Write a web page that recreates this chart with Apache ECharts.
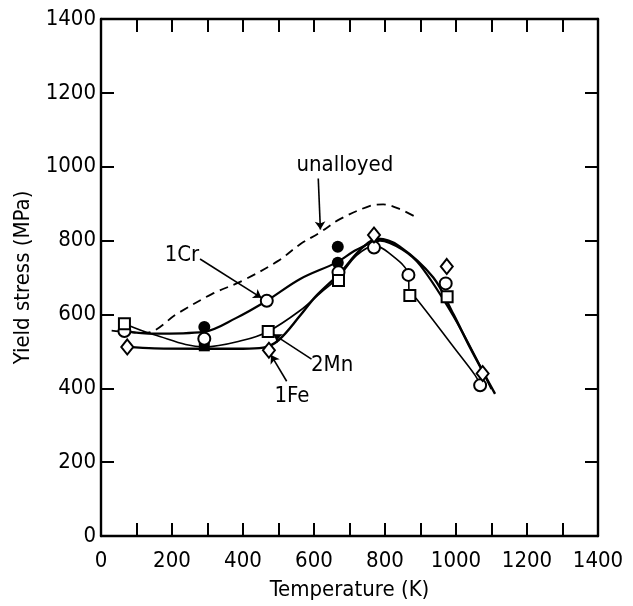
<!DOCTYPE html>
<html><head><meta charset="utf-8">
<script src="https://cdn.jsdelivr.net/npm/echarts@6/dist/echarts.min.js"></script>
<style>html,body{margin:0;padding:0;background:#fff}#c{width:633px;height:606px}</style>
</head><body><div id="c"></div>
<script>
// ---- data (Temperature K, Yield stress MPa) ----
const xTicks = [0,200,400,600,800,1000,1200,1400];
const yTicks = [0,200,400,600,800,1000,1200,1400];

const curveUnalloyed = [[30,556],[124,550],[218,604],[312,655],[400,692],[499,745],[561,790],[617,822],[673,858],[758,894],[795,898],[842,885],[894,860]];
const curve1Cr = [[66,555],[150,548],[290,553],[380,590],[467,637],[561,696],[664,741],[720,775],[786,800],[850,775],[900,732],[993,595],[1077,443],[1100,398]];
const curve1Fe = [[74,512],[150,508],[290,507],[400,507],[457,510],[500,530],[561,597],[603,647],[673,712],[730,775],[780,805],[840,785],[936,700],[993,600],[1039,511],[1077,443],[1110,385]];
const curve2Mn = [[66,575],[150,545],[291,512],[400,530],[471,554],[560,610],[620,660],[669,700],[720,760],[770,785],[809,768],[866,707],[868,660],[889,642],[997,507],[1054,435],[1068,410]];

const pts1Cr = [[66,555],[291,534],[467,637],[669,714],[769,781],[866,707],[971,684],[1068,408]];
const pts2Mn = [[66,575],[471,554],[669,692],[870,651],[975,648]];
const pts1Fe = [[74,512],[473,503],[769,815],[974,730],[1075,440]];
const ptsFilledCircle = [[291,566],[667,783],[667,740]];
const ptsFilledSquare = [[291,515]];

const labels = [
  {name:'unalloyed', value:[687,1003]},
  {name:'1Cr', value:[228,761]},
  {name:'2Mn', value:[651,461]},
  {name:'1Fe', value:[538,378]}
];
const arrows = [
  [[612,968],[618,830]],
  [[279,750],[452,645]],
  [[593,479],[486,546]],
  [[523,419],[479,490]]
];

const FONT = "'DejaVu Sans Condensed','Liberation Sans Narrow',sans-serif";
const FS = 22;
const chart = echarts.init(document.getElementById('c'));
const axisLine = {show:true, onZero:false, lineStyle:{color:'#000', width:2.4}};
const tick = {show:true, inside:true, length:13, lineStyle:{color:'#000', width:2}};
const openSym = (d, sym, size) => ({type:'scatter', data:d, symbol:sym, symbolSize:size, z:5,
  itemStyle:{color:'#fff', borderColor:'#000', borderWidth:2, opacity:1}});
const lineS = (d, w, dash) => ({type:'line', data:d, smooth:0.35, showSymbol:false, symbol:'none', z:3,
  lineStyle:{color:'#000', width:w, type: dash ? [9,6] : 'solid'}});

chart.setOption({
  animation:false,
  backgroundColor:'#fff',
  grid:{left:101, right:35, top:19, bottom:68, containLabel:false},
  xAxis:[
    {type:'value', min:0, max:1400, interval:100, position:'bottom',
     name:'Temperature (K)', nameLocation:'middle', nameGap:43,
     nameTextStyle:{fontFamily:FONT, fontSize:FS, color:'#000'},
     axisLine, axisTick:tick, splitLine:{show:false},
     axisLabel:{fontFamily:FONT, fontSize:FS, color:'#000', margin:14,
       formatter:v => (xTicks.indexOf(v) >= 0 ? String(v) : '')}},
    {type:'value', min:0, max:1400, interval:100, position:'top',
     axisLine, axisTick:tick, splitLine:{show:false}, axisLabel:{show:false}}
  ],
  yAxis:[
    {type:'value', min:0, max:1400, interval:200, position:'left',
     name:'Yield stress (MPa)', nameLocation:'middle', nameGap:62,
     nameTextStyle:{fontFamily:FONT, fontSize:FS, color:'#000'},
     axisLine, axisTick:tick, splitLine:{show:false},
     axisLabel:{fontFamily:FONT, fontSize:FS, color:'#000', margin:5,
       formatter:v => (yTicks.indexOf(v) >= 0 ? String(v) : '')}},
    {type:'value', min:0, max:1400, interval:200, position:'right',
     axisLine, axisTick:tick, splitLine:{show:false}, axisLabel:{show:false}}
  ],
  series:[
    lineS(curveUnalloyed, 1.8, true),
    lineS(curve1Cr, 2.2),
    lineS(curve1Fe, 2.4),
    lineS(curve2Mn, 1.6),
    openSym(pts1Cr, 'circle', 12),
    openSym(pts2Mn, 'rect', 11),
    openSym(pts1Fe, 'diamond', [12,15]),
    {type:'scatter', data:ptsFilledCircle, symbol:'circle', symbolSize:12, z:4, itemStyle:{color:'#000', opacity:1}},
    {type:'scatter', data:ptsFilledSquare, symbol:'rect', symbolSize:11, z:4, itemStyle:{color:'#000', opacity:1}},
    {type:'lines', coordinateSystem:'cartesian2d', z:6, symbol:['none','arrow'], symbolSize:8,
     lineStyle:{color:'#000', width:1.6, opacity:1},
     data: arrows.map(c => ({coords:c}))},
    {type:'scatter', data:labels, symbolSize:1, z:7, itemStyle:{opacity:0},
     label:{show:true, position:'inside', formatter:p => p.name, fontFamily:FONT, fontSize:FS,
            color:'#000', opacity:1, textBorderWidth:0}}
  ]
});
</script></body></html>
